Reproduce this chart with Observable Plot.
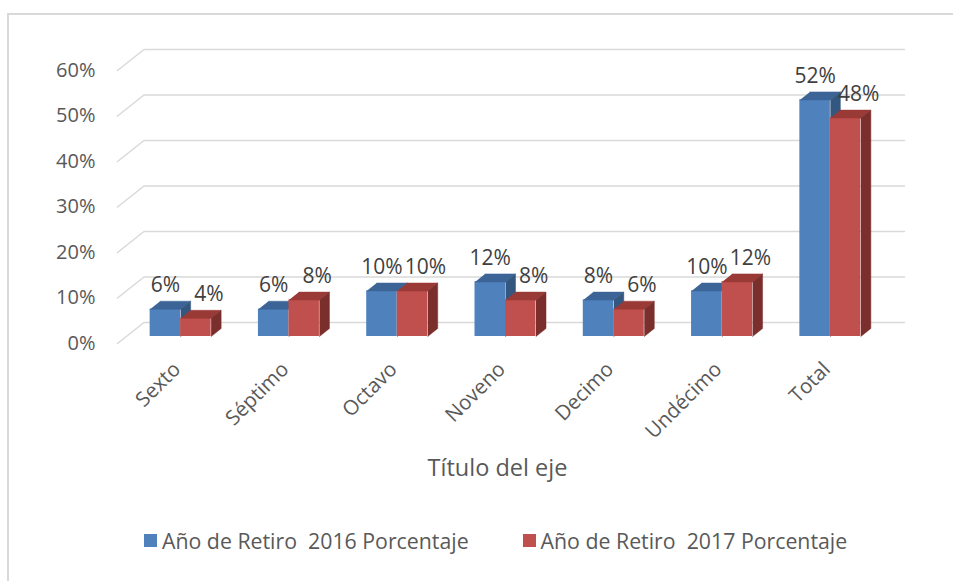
<!DOCTYPE html>
<html>
<head>
<meta charset="utf-8">
<script src="https://cdn.jsdelivr.net/npm/d3@7"></script>
<script src="https://cdn.jsdelivr.net/npm/@observablehq/plot@0.6"></script>
<style>
  html, body { margin: 0; padding: 0; background: #fff; overflow: hidden; }
  body { width: 953px; height: 581px; position: relative; font-family: "Open Sans", sans-serif; color: #595959; }
  #frame { position: absolute; left: 7px; top: 13px; width: 980px; height: 620px; border: 2px solid #d9d9d9; box-sizing: border-box; pointer-events: none; }
  #chart { position: absolute; left: 0; top: 0; }
  #legend { position: absolute; left: 144px; top: 526px; display: flex; align-items: center; font-size: 21.3px; white-space: pre; color: #595959; }
  .item { display: flex; align-items: center; }
  .sw { width: 13px; height: 13px; margin-right: 5px; }
</style>
</head>
<body>
<div id="chart"></div>
<div id="legend"></div>
<div id="frame"></div>
<script>
// ---- data ----
const categories = ["Sexto", "Séptimo", "Octavo", "Noveno", "Decimo", "Undécimo", "Total"];
const seriesNames = ["Año de Retiro  2016 Porcentaje", "Año de Retiro  2017 Porcentaje"];
const values2016 = [0.06, 0.06, 0.10, 0.12, 0.08, 0.10, 0.52];
const values2017 = [0.04, 0.08, 0.10, 0.08, 0.06, 0.12, 0.48];
const yTicks = [0, 0.1, 0.2, 0.3, 0.4, 0.5, 0.6];
const axisTitle = "Título del eje";

// ---- styles / geometry ----
const W = 953, H = 520;
const mL = 126, mR = 69, mT = 63, mB = 184;
const xDomain = [-0.5, categories.length - 0.5];
const yDomain = [0, 0.6];
const kx = (xDomain[1] - xDomain[0]) / (W - mL - mR); // data units per px
const ky = (yDomain[1] - yDomain[0]) / (H - mT - mB);
const barPx = 30.5, depthX = 10, depthY = 8;           // bar width & 3D depth in px
const backDX = 17.5, backDY = 14, frontDX = -9, frontDY = -7, backRightExtra = 20;
const colors = [
  {front: "#4F81BD", top: "#3C6496", side: "#33577F"},
  {front: "#C0504D", top: "#9A3A37", side: "#7B2F2D"}
];
const bw = barPx * kx, ddx = depthX * kx, ddy = depthY * ky;

const bars = [];
[values2016, values2017].forEach((vals, s) => {
  vals.forEach((v, i) => {
    const x1 = i - bw + s * bw, x2 = x1 + bw;
    bars.push({cat: categories[i], i, s, v, x1, x2});
  });
});

function faces(s, kind) {
  const pts = [];
  bars.filter(b => b.s === s).forEach(b => {
    const poly = kind === "top"
      ? [[b.x1, b.v], [b.x2, b.v], [b.x2 + ddx, b.v + ddy], [b.x1 + ddx, b.v + ddy]]
      : [[b.x2, 0], [b.x2 + ddx, ddy], [b.x2 + ddx, b.v + ddy], [b.x2, b.v]];
    poly.forEach(([x, y]) => pts.push({key: b.cat + kind, x, y}));
  });
  return pts;
}

const grid = [];
yTicks.forEach(t => {
  grid.push({t, x: xDomain[0] + frontDX * kx, y: t + frontDY * ky});
  grid.push({t, x: xDomain[0] + backDX * kx, y: t + backDY * ky});
  grid.push({t, x: xDomain[1] + backRightExtra * kx, y: t + backDY * ky});
});

const marks = [
  Plot.line(grid, {x: "x", y: "y", z: "t", stroke: "#d9d9d9", strokeWidth: 1.5})
];
[0, 1].forEach(s => {
  const data = bars.filter(b => b.s === s);
  marks.push(Plot.rect(data, {x1: "x1", x2: "x2", y1: 0, y2: "v", fill: colors[s].front}));
  marks.push(Plot.line(faces(s, "top"), {x: "x", y: "y", z: "key", fill: colors[s].top, stroke: colors[s].top, strokeWidth: 0.5}));
  marks.push(Plot.line(faces(s, "side"), {x: "x", y: "y", z: "key", fill: colors[s].side, stroke: colors[s].side, strokeWidth: 0.5}));
});
[0, 1].forEach(s => {
  const data = bars.filter(b => b.s === s);
  marks.push(Plot.text(data, {x: b => (b.x1 + b.x2) / 2, y: "v", text: b => d3.format(".0%")(b.v),
    dy: -24, dx: s === 1 ? 13 : 0, fontSize: 21, fill: "#404040"}));
});
marks.push(Plot.text(yTicks, {frameAnchor: "left", y: d => d, text: d => d3.format(".0%")(d),
  dx: -31, dy: 7, textAnchor: "end", fontSize: 20, fill: "#595959"}));
marks.push(Plot.text(categories, {x: (d, i) => i, frameAnchor: "bottom", text: d => d,
  rotate: -45, textAnchor: "end", dx: 1, dy: 34, fontSize: 20.5, fill: "#595959"}));
marks.push(Plot.text([axisTitle], {frameAnchor: "bottom", text: d => d, dx: -8, dy: 139, fontSize: 23.5, fill: "#595959"}));

const chart = Plot.plot({
  width: W, height: H,
  marginLeft: mL, marginRight: mR, marginTop: mT, marginBottom: mB,
  x: {type: "linear", domain: xDomain, axis: null},
  y: {domain: yDomain, axis: null},
  style: {fontFamily: "Open Sans", background: "transparent", overflow: "visible"},
  marks
});
document.getElementById("chart").append(chart);

const legend = d3.select("#legend");
seriesNames.forEach((name, s) => {
  const it = legend.append("div").attr("class", "item").style("margin-right", s === 0 ? "54px" : "0px");
  it.append("div").attr("class", "sw").style("background", colors[s].front);
  it.append("span").text(name);
});
</script>
</body>
</html>
